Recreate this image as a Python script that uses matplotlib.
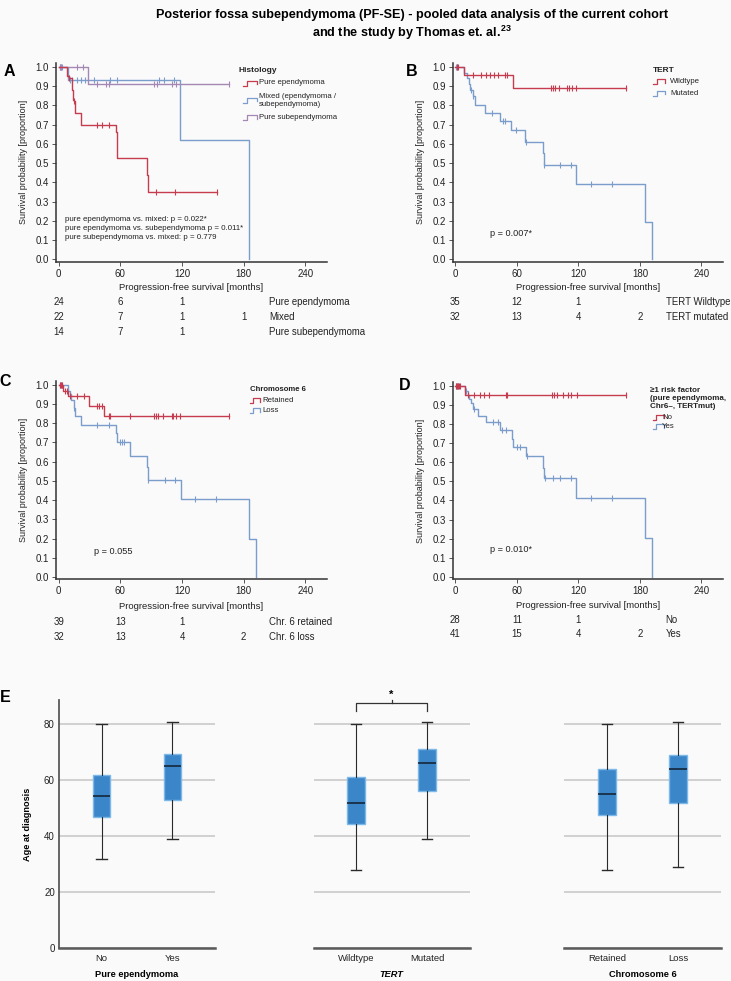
import numpy as np
import matplotlib.pyplot as plt
from matplotlib.lines import Line2D
from matplotlib import font_manager

# ====================================
# 1. Data
# ====================================
# Kaplan-Meier curves: step times (months), survival after each step, censor times
A_epen_t = [0, 8.5, 10, 12.5, 14, 15, 16, 22, 56, 57, 86, 87]
A_epen_s = [1.0, 0.95, 0.94, 0.88, 0.83, 0.82, 0.76, 0.70, 0.66, 0.525, 0.44, 0.35]
A_epen_c = [10.5, 15, 37, 42, 48.5, 95, 113, 154]
A_mixed_t = [0, 9, 118, 185.5]
A_mixed_s = [1.0, 0.93, 0.62, 0.0]
A_mixed_c = [1, 2, 3, 11, 12.5, 17.5, 22, 25.5, 34, 50, 57, 97.5, 102.5, 112]
A_subep_t = [0, 29]
A_subep_s = [1.0, 0.91]
A_subep_c = [1, 2, 17.5, 24, 37, 46, 48.5, 93, 96, 110, 114, 166]

B_wild_t = [0, 8, 56.5]
B_wild_s = [1.0, 0.96, 0.89]
B_wild_c = [2, 3, 17, 25, 30, 34, 38, 42, 48.5, 50, 93, 95, 97, 101, 109, 111, 113.5, 118, 166]
B_mut_t = [0, 8, 11, 13, 14, 17, 19.5, 29, 43.3, 54.6, 68, 85, 86, 118, 185, 192]
B_mut_s = [1.0, 0.97, 0.94, 0.91, 0.88, 0.85, 0.80, 0.76, 0.72, 0.67, 0.61, 0.55, 0.49, 0.39, 0.195, 0.0]
B_mut_c = [1, 2, 15, 17.5, 36, 46, 48, 59.6, 68.5, 86.5, 102, 113, 132, 152.5]

C_ret_t = [0, 4, 9.5, 29.5, 44.5]
C_ret_s = [1.0, 0.97, 0.94, 0.89, 0.84]
C_ret_c = [1, 2, 3, 6, 8, 11, 17.5, 25, 37, 39.5, 42.5, 48.5, 50, 69, 92.5, 94.5, 96.5,
           101.5, 110, 111.5, 114, 118.5, 166]
C_loss_t = [0, 9.5, 11, 12, 14.5, 16, 22, 56, 57, 69, 85.5, 86.5, 118.7, 185.6, 192.4]
C_loss_s = [1.0, 0.97, 0.95, 0.92, 0.88, 0.84, 0.79, 0.75, 0.70, 0.63, 0.57, 0.505, 0.405, 0.20, 0.0]
C_loss_c = [1, 2, 3, 14.8, 37, 49, 59.5, 61.5, 64, 86.8, 103, 113, 132.5, 153]

D_no_t = [0, 9]
D_no_s = [1.0, 0.953]
D_no_c = [1, 2, 3, 4, 5, 12, 18.5, 24, 28, 33, 49.5, 50.5, 94, 96.3, 99, 104.8, 110.3,
          112.6, 118.5, 166]
D_yes_t = [0, 9, 12, 13, 15, 17, 22.4, 30, 43.8, 55.6, 56.6, 69, 85, 86, 118, 185, 192]
D_yes_s = [1.0, 0.97, 0.95, 0.93, 0.91, 0.88, 0.84, 0.81, 0.77, 0.72, 0.68, 0.63, 0.57,
           0.515, 0.41, 0.205, 0.0]
D_yes_c = [1, 2, 3, 10, 18, 37, 42, 45.4, 49.4, 60, 63.2, 69.5, 87.3, 94.8, 102, 112.5, 132, 152.5]

# numbers at risk (at 0, 60, 120, 180 months)
A_risk = [[24, 6, 1, ''], [22, 7, 1, 1], [14, 7, 1, '']]
A_risk_lab = ['Pure ependymoma', 'Mixed', 'Pure subependymoma']
B_risk = [[35, 12, 1, ''], [32, 13, 4, 2]]
B_risk_lab = ['TERT Wildtype', 'TERT mutated']
C_risk = [[39, 13, 1, ''], [32, 13, 4, 2]]
C_risk_lab = ['Chr. 6 retained', 'Chr. 6 loss']
D_risk = [[28, 11, 1, ''], [41, 15, 4, 2]]
D_risk_lab = ['No', 'Yes']
risk_times = [0, 60, 120, 180]

# box plots: age at diagnosis
E_groups = [['No', 'Yes'], ['Wildtype', 'Mutated'], ['Retained', 'Loss']]
E_titles = ['Pure ependymoma', 'TERT', 'Chromosome 6']
E_whislo = [[32, 39], [28, 39], [28, 29]]
E_q1 = [[47, 53], [44.5, 56], [47.5, 52]]
E_med = [[54.5, 65], [52, 66], [55, 64]]
E_q3 = [[62, 69.5], [61, 71], [64, 69]]
E_whishi = [[80, 81], [80, 81], [80, 81]]

# ====================================
# 2. Style
# ====================================
installed = {f.name for f in font_manager.fontManager.ttflist}
NARROW = 'Liberation Sans Narrow' if 'Liberation Sans Narrow' in installed else 'Liberation Sans'
plt.rcParams['font.family'] = ['Liberation Sans', 'DejaVu Sans']
plt.rcParams['mathtext.fontset'] = 'custom'
plt.rcParams['mathtext.rm'] = NARROW
plt.rcParams['mathtext.bf'] = NARROW + ':bold'

RED = '#c63c4e'
BLUE = '#7b9dcb'
PURPLE = '#a487b5'
DARK = '#333333'
BG = '#fafafa'

W, H = 731, 981
fig = plt.figure(figsize=(W / 100, H / 100), dpi=100, facecolor=BG)


def px_axes(left, top, right, bottom):
    return fig.add_axes([left / W, 1 - bottom / H, (right - left) / W, (bottom - top) / H])


def ftext(x, y, s, **kw):
    fig.text(x / W, 1 - y / H, s, **kw)


def km(ax, t, s, cens, color):
    end = max(max(t), max(cens))
    ax.step(list(t) + [end], list(s) + [s[-1]], where='post', color=color, lw=1.0)
    idx = np.searchsorted(t, cens, side='right') - 1
    ax.plot(cens, np.array(s)[idx], ls='none', marker='|', ms=4.5, mew=0.8, color=color)


def km_axes(ax, risk, labels, row0, drow, xlab_y, ylab_x):
    ax.set_facecolor('none')
    ax.set_xlim(-2.6, 261)
    ax.set_ylim(-0.012, 1.02)
    ax.set_xticks([0, 60, 120, 180, 240])
    ax.set_yticks(np.round(np.arange(0, 1.01, 0.1), 1))
    ax.set_yticklabels([f'{v:.1f}' for v in np.arange(0, 1.01, 0.1)])
    for side in ['top', 'right']:
        ax.spines[side].set_visible(False)
    for side in ['left', 'bottom']:
        ax.spines[side].set_color(DARK)
        ax.spines[side].set_linewidth(1.1)
    ax.tick_params(length=3, width=0.7, color='#555555', labelsize=7, pad=2,
                   labelcolor='#222222')
    ax.set_xlabel('Progression-free survival [months]', fontsize=6.8, color='#222222')
    ax.set_ylabel('Survival probability [proportion]', fontsize=6.5, color='#222222')
    ax.xaxis.set_label_coords(0.5, xlab_y)
    ax.yaxis.set_label_coords(ylab_x, 0.5)
    tr = ax.get_xaxis_transform()
    for i, (row, lab) in enumerate(zip(risk, labels)):
        y = row0 - i * drow
        for tx, n in zip(risk_times, row):
            ax.text(tx, y, str(n), transform=tr, ha='center', va='center',
                    fontsize=6.9, color='#222222')
        ax.text(205, y, lab, transform=tr, ha='left', va='center', fontsize=6.9,
                color='#222222')


def legend(x_title, x_glyph, x_text, y_title, title, entries, tsize=6.0, size=5.6):
    ftext(x_title, y_title, title, fontsize=tsize, fontweight='bold', ha='left',
          va='center', color='#222222', linespacing=1.2)
    for lab, color, y in entries:
        gx = np.array([0, 0.3, 0.3, 1.0, 1.0]) * (x_glyph[1] - x_glyph[0]) + x_glyph[0]
        gy = y + np.array([2.5, 2.5, -2.5, -2.5, 1.0])
        fig.add_artist(Line2D(gx / W, 1 - gy / H, color=color, lw=0.9,
                              transform=fig.transFigure))
        ftext(x_text, y, lab, fontsize=size, ha='left', va='center', color='#222222',
              linespacing=1.2)


# ====================================
# 3. Title
# ====================================
ftext(412, 15, 'Posterior fossa subependymoma (PF-SE) - pooled data analysis of the current cohort',
      fontsize=9.1, fontweight='bold', ha='center', va='center', family=[NARROW, 'DejaVu Sans'])
ftext(412, 32.5, r'and the study by Thomas et. al.$^{\mathbf{23}}$',
      fontsize=9.1, fontweight='bold', ha='center', va='center', family=[NARROW, 'DejaVu Sans'])

# ====================================
# 4. Kaplan-Meier panels
# ====================================
axA = px_axes(56, 63, 327, 261.6)
km(axA, A_mixed_t, A_mixed_s, A_mixed_c, BLUE)
km(axA, A_subep_t, A_subep_s, A_subep_c, PURPLE)
km(axA, A_epen_t, A_epen_s, A_epen_c, RED)
km_axes(axA, A_risk, A_risk_lab, -0.204, 0.076, -0.11, -0.105)
axA.text(0.033, 0.166, 'pure ependymoma vs. mixed: p = 0.022*\n'
         'pure ependymoma vs. subependymoma p = 0.011*\n'
         'pure subependymoma vs. mixed: p = 0.779',
         transform=axA.transAxes, fontsize=5.7, va='center', ha='left',
         linespacing=1.35, color='#222222')
legend(238, (243, 257), 259, 70, 'Histology',
       [('Pure ependymoma', RED, 83), ('Mixed (ependymoma /\nsubependymoma)', BLUE, 100),
        ('Pure subependymoma', PURPLE, 117.7)])

axB = px_axes(452.7, 63, 723, 261.6)
km(axB, B_mut_t, B_mut_s, B_mut_c, BLUE)
km(axB, B_wild_t, B_wild_s, B_wild_c, RED)
km_axes(axB, B_risk, B_risk_lab, -0.204, 0.076, -0.11, -0.102)
axB.text(0.138, 0.139, 'p = 0.007*', transform=axB.transAxes, fontsize=6.6,
         va='center', ha='left', color='#222222')
legend(653, (653, 665), 670, 70, 'TERT', [('Wildtype', RED, 81.7), ('Mutated', BLUE, 93.3)])

axC = px_axes(56, 381, 327, 579.3)
km(axC, C_loss_t, C_loss_s, C_loss_c, BLUE)
km(axC, C_ret_t, C_ret_s, C_ret_c, RED)
km_axes(axC, C_risk, C_risk_lab, -0.215, 0.075, -0.116, -0.105)
axC.text(0.14, 0.138, 'p = 0.055', transform=axC.transAxes, fontsize=6.6,
         va='center', ha='left', color='#222222')
legend(250, (250, 260), 262, 389.3, 'Chromosome 6', [('Retained', RED, 400.7), ('Loss', BLUE, 410.5)],
       tsize=5.6)

axD = px_axes(452.7, 381.7, 723, 579.3)
km(axD, D_yes_t, D_yes_s, D_yes_c, BLUE)
km(axD, D_no_t, D_no_s, D_no_c, RED)
km_axes(axD, D_risk, D_risk_lab, -0.205, 0.072, -0.11, -0.102)
axD.text(0.138, 0.153, 'p = 0.010*', transform=axD.transAxes, fontsize=6.6,
         va='center', ha='left', color='#222222')
legend(650, (653, 664), 662, 398.5, '≥1 risk factor\n(pure ependymoma,\nChr6–, TERTmut)',
       [('No', RED, 417.3), ('Yes', BLUE, 426.7)], tsize=5.8)

for lab, x, y in [('A', 9, 72), ('B', 412, 72), ('C', 5, 382), ('D', 405, 385.5), ('E', 5, 698)]:
    ftext(x, y, lab, fontsize=11.5, fontweight='bold', ha='center', va='center')

# ====================================
# 5. Box plots (age at diagnosis)
# ====================================
E_left = [59, 313.8, 564]
E_right = [215, 469.5, 721]
axes_E = []
for k in range(3):
    ax = px_axes(E_left[k], 700, E_right[k], 948)
    axes_E.append(ax)
    ax.set_facecolor('none')
    stats = [dict(label=E_groups[k][j], whislo=E_whislo[k][j], q1=E_q1[k][j],
                  med=E_med[k][j], q3=E_q3[k][j], whishi=E_whishi[k][j], fliers=[])
             for j in range(2)]
    ax.bxp(stats, positions=[0, 1], widths=0.25, capwidths=0.145, patch_artist=True,
           boxprops=dict(facecolor='#3a86c8', edgecolor='#7db9e8', lw=1.0),
           medianprops=dict(color='#15263a', lw=1.2),
           whiskerprops=dict(color='#2a2a2a', lw=0.8),
           capprops=dict(color='#2a2a2a', lw=1.0))
    ax.set_xlim(-0.6, 1.6)
    ax.set_ylim(0, 88.7)
    ax.set_yticks([0, 20, 40, 60, 80])
    ax.yaxis.grid(True, color='#cdcdcd', lw=1.3)
    ax.set_axisbelow(True)
    for side in ['top', 'right']:
        ax.spines[side].set_visible(False)
    ax.spines['bottom'].set_color('#5a5a5a')
    ax.spines['bottom'].set_linewidth(1.8)
    ax.tick_params(axis='x', length=0, pad=4, labelsize=6.8)
    for t in ax.get_xticklabels():
        t.set_family([NARROW, 'DejaVu Sans'])
        t.set_color('#222222')
    ax.set_xlabel(E_titles[k], fontsize=6.7, fontweight='bold',
                  fontstyle='italic' if E_titles[k] == 'TERT' else 'normal')
    ax.xaxis.set_label_coords(0.5, -0.09)
    if k == 0:
        ax.spines['left'].set_color('#5a5a5a')
        ax.spines['left'].set_linewidth(1.3)
        ax.tick_params(axis='y', length=0, pad=3, labelsize=7)
        for t in ax.get_yticklabels():
            t.set_family([NARROW, 'DejaVu Sans'])
            t.set_color('#222222')
        ax.set_ylabel('Age at diagnosis', fontsize=6.6, fontweight='bold')
        ax.yaxis.set_label_coords(-0.175, 0.5)
    else:
        ax.spines['left'].set_visible(False)
        ax.tick_params(axis='y', length=0, labelleft=False)

# significance bracket for TERT
axT = axes_E[1]
axT.plot([0, 0, 1, 1], [84.9, 87.6, 87.6, 84.9], color='#333333', lw=0.9, clip_on=False)
axT.plot([0.5, 0.5], [87.6, 88.6], color='#333333', lw=0.9, clip_on=False)
axT.text(0.5, 88.6, '*', ha='center', va='bottom', fontsize=8, fontweight='bold',
         clip_on=False)

fig.savefig('out.png', dpi=100, facecolor=BG)
